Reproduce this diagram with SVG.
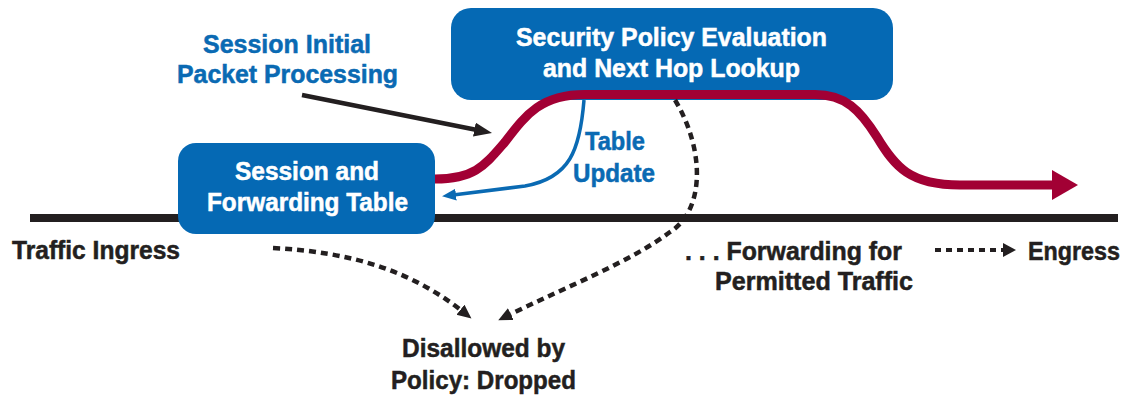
<svg xmlns="http://www.w3.org/2000/svg" width="1125" height="398" viewBox="0 0 1125 398">
<style>
text{font-family:"Liberation Sans",Arial,sans-serif;font-weight:bold;font-size:25px;stroke-width:0.5px}
.w{fill:#ffffff;stroke:#ffffff}.b{fill:#0A6AB3;stroke:#0A6AB3}.k{fill:#231F20;stroke:#231F20}
.box{fill:#0569B4}
.red{fill:none;stroke:#A20034;stroke-width:9;stroke-linejoin:round}
.blue{fill:none;stroke:#0A6AB3;stroke-width:3.5}
.blk{fill:none;stroke:#231F20;stroke-width:4.5}
.dash{fill:none;stroke:#231F20;stroke-width:4.5;stroke-dasharray:7 5}
</style>
<defs>
<marker id="mb" markerUnits="userSpaceOnUse" markerWidth="20" markerHeight="16" refX="4" refY="7" orient="auto"><path d="M0,0 L18,7 L0,14 z" fill="#231F20"/></marker>
<marker id="mblue" markerUnits="userSpaceOnUse" markerWidth="16" markerHeight="14" refX="3" refY="6" orient="auto"><path d="M0,0 L14,6 L0,12 z" fill="#0A6AB3"/></marker>
<marker id="md" markerUnits="userSpaceOnUse" markerWidth="16" markerHeight="15" refX="2" refY="6.5" orient="auto"><path d="M0,0 L14,6.5 L0,13 z" fill="#231F20"/></marker>
</defs>
<rect x="30" y="214" width="1088" height="8" fill="#231F20"/>
<g id="node-session-table">
<rect class="box" x="178" y="143" width="257" height="91" rx="18"/>
<text class="w" x="235" y="180" textLength="144" lengthAdjust="spacingAndGlyphs">Session and</text>
<text class="w" x="207" y="211" textLength="201" lengthAdjust="spacingAndGlyphs">Forwarding Table</text>
</g>
<g id="node-security-policy">
<rect class="box" x="451" y="8" width="442" height="92" rx="20"/>
<text class="w" x="516" y="46" textLength="311" lengthAdjust="spacingAndGlyphs">Security Policy Evaluation</text>
<text class="w" x="543" y="77" textLength="257" lengthAdjust="spacingAndGlyphs">and Next Hop Lookup</text>
</g>
<g id="connectors">
<path class="red" d="M 435 179 C 475 179, 485 165, 505 142 C 525 116, 540 94.5, 585 94.5 L 815 94.5 C 845 94.5, 860 110, 877 137 C 895 167, 910 185, 960 185 L 1054 185"/>
<polygon points="1052,170 1078,185 1052,200" fill="#A20034"/>
<path class="blue" d="M 584 100 C 580 150, 570 178, 525 186 L 453 195" marker-end="url(#mblue)"/>
<path class="blk" d="M 302 95 L 478.3 130.3" marker-end="url(#mb)"/>
<path class="dash" d="M 273 248 C 350 252, 410 270, 462 311" marker-end="url(#md)"/>
<path class="dash" d="M 675 100 C 705 150, 705 210, 670 232 C 630 262, 570 285, 509 315" marker-end="url(#md)"/>
<path d="M 935 250 L 1003 250" fill="none" stroke="#231F20" stroke-width="4" stroke-dasharray="6 5"/>
<polygon points="1003,243 1016,250 1003,257" fill="#231F20"/>
</g>
<g id="labels">
<text class="b" x="203" y="53" textLength="168" lengthAdjust="spacingAndGlyphs">Session Initial</text>
<text class="b" x="177" y="83" textLength="221" lengthAdjust="spacingAndGlyphs">Packet Processing</text>
<text class="b" x="585" y="150" textLength="60" lengthAdjust="spacingAndGlyphs">Table</text>
<text class="b" x="573" y="182" textLength="82" lengthAdjust="spacingAndGlyphs">Update</text>
<text class="k" x="12" y="259" textLength="168" lengthAdjust="spacingAndGlyphs">Traffic Ingress</text>
<text class="k" x="685" y="260" textLength="217" lengthAdjust="spacingAndGlyphs">. . . Forwarding for</text>
<text class="k" x="715" y="290" textLength="198" lengthAdjust="spacingAndGlyphs">Permitted Traffic</text>
<text class="k" x="1028" y="260" textLength="92" lengthAdjust="spacingAndGlyphs">Engress</text>
<text class="k" x="402" y="357" textLength="163" lengthAdjust="spacingAndGlyphs">Disallowed by</text>
<text class="k" x="391" y="389" textLength="185" lengthAdjust="spacingAndGlyphs">Policy: Dropped</text>
</g>
</svg>
